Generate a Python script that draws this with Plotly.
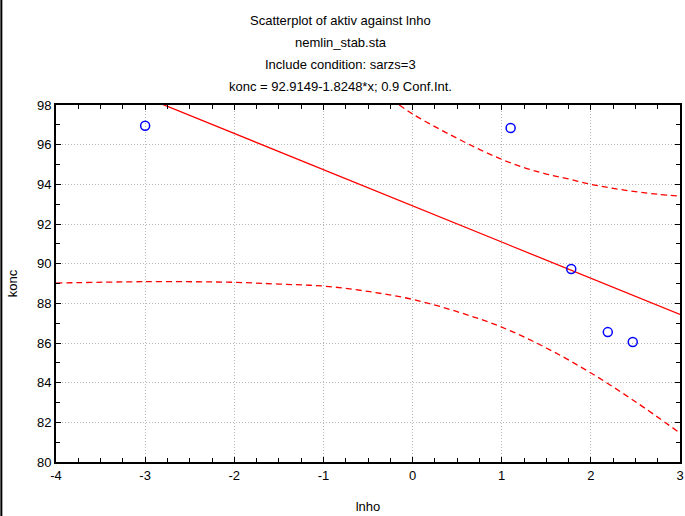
import plotly.graph_objects as go

# Data points
lnho = [-3.0, 1.10, 1.78, 2.19, 2.47]
konc = [96.95, 96.84, 89.73, 86.55, 86.05]

# Regression coefficients (from title)
intercept = 92.9149
slope = -1.8248
line_x = [-4.0, 3.0]

# Confidence bands
upper_x = [-0.15, 0.0, 0.25, 0.5, 0.75, 1.0, 1.25, 1.5, 1.75, 2.0, 2.25, 2.5, 2.75, 3.0]
upper_y = [98.0, 97.55, 96.91, 96.32, 95.76, 95.26, 94.84, 94.52, 94.27, 94.0, 93.8, 93.63, 93.5, 93.41]
lower_x = [-4.0, -3.0, -2.0, -1.5, -1.0, -0.5, 0.0, 0.5, 1.0, 1.5, 2.0, 2.5, 3.0]
lower_y = [89.02, 89.09, 89.06, 88.97, 88.87, 88.6, 88.2, 87.58, 86.8, 85.75, 84.49, 83.04, 81.46]

x_ticks = [-4, -3, -2, -1, 0, 1, 2, 3]
x_ticktext = ["-4", "-3", "-2", "-1", "0", "1", "2", "3"]
y_ticks = [80, 82, 84, 86, 88, 90, 92, 94, 96, 98]
y_ticktext = [str(v) for v in y_ticks]

title_lines = [
    "Scatterplot of aktiv against lnho",
    "nemlin_stab.sta",
    "Include condition: sarzs=3",
    "konc = 92.9149-1.8248*x; 0.9 Conf.Int.",
]

FONT = "Liberation Sans, Arial, sans-serif"
W, H = 685, 516
ml, mr, mt, mb = 56, 1, 105, 54

fig = go.Figure()
line_y = [intercept + slope * x for x in line_x]
fig.add_trace(go.Scatter(x=line_x, y=line_y, mode="lines",
                         line=dict(color="#ff0000", width=1.3), showlegend=False))
fig.add_trace(go.Scatter(x=upper_x, y=upper_y, mode="lines",
                         line=dict(color="#ff0000", width=1.3, dash="6px,4px", shape="spline"),
                         showlegend=False))
fig.add_trace(go.Scatter(x=lower_x, y=lower_y, mode="lines",
                         line=dict(color="#ff0000", width=1.3, dash="6px,4px", shape="spline"),
                         showlegend=False))
fig.add_trace(go.Scatter(x=lnho, y=konc, mode="markers",
                         marker=dict(symbol="circle-open", size=9, color="#0000ff",
                                     line=dict(width=1.5, color="#0000ff")),
                         showlegend=False, cliponaxis=False))

axis_common = dict(
    showline=True, linecolor="black", linewidth=2, mirror="ticks",
    ticks="inside", ticklen=5, tickcolor="black", tickwidth=1,
    showgrid=True, gridcolor="#b8b8b8", griddash="1px,2px", gridwidth=1,
    zeroline=False, tickfont=dict(family=FONT, size=13, color="black"),
    ticklabeloverflow="allow",
)

fig.update_xaxes(range=[-4, 3], tickmode="array", tickvals=x_ticks, ticktext=x_ticktext,
                 minor=dict(dtick=0.25, tick0=-4, ticks="inside", ticklen=4, tickcolor="black", showgrid=False),
                 title=dict(text="lnho", font=dict(family=FONT, size=13, color="black"), standoff=20),
                 **axis_common)
fig.update_yaxes(range=[80, 98], tickmode="array", tickvals=y_ticks, ticktext=y_ticktext,
                 minor=dict(dtick=1, tick0=80, ticks="inside", ticklen=4, tickcolor="black", showgrid=False),
                 title=dict(text="konc", font=dict(family=FONT, size=13, color="black"), standoff=16),
                 **axis_common)

pw = W - ml - mr
ph = H - mt - mb
annotations = []
ys = [21, 43, 65, 87]
for txt, yy in zip(title_lines, ys):
    annotations.append(dict(text=txt, xref="paper", yref="paper",
                            x=(W / 2 - ml) / pw, y=(H - mb - yy) / ph,
                            showarrow=False, xanchor="center", yanchor="middle",
                            font=dict(family=FONT, size=13, color="black")))

fig.update_layout(
    width=W, height=H,
    margin=dict(l=ml, r=mr, t=mt, b=mb),
    paper_bgcolor="white", plot_bgcolor="white",
    annotations=annotations,
    shapes=[dict(type="line", xref="paper", yref="paper",
                 x0=-(ml - 1) / pw, x1=-(ml - 1) / pw, y0=-mb / ph, y1=(H - mb) / ph,
                 line=dict(color="black", width=2))],
)

fig.write_html("out.html")
